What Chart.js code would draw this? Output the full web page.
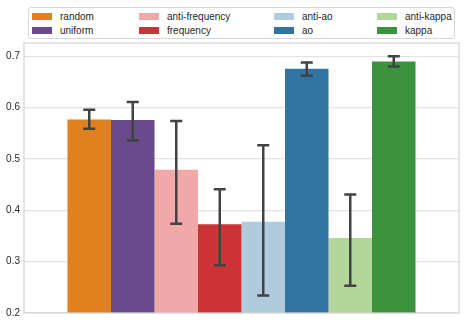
<!DOCTYPE html>
<html>
<head>
<meta charset="utf-8">
<script src="https://cdn.jsdelivr.net/npm/chart.js@4/dist/chart.umd.min.js"></script>
<style>
  html, body { margin: 0; padding: 0; background: #fff; }
  #wrap { position: relative; width: 466px; height: 333px; }
  #legend { position: absolute; left: 28px; top: 7px; width: 425px; height: 30px;
    border: 1px solid #d6d6d6; border-radius: 3px; background: #fff;
    font-family: "Liberation Sans", Arial, sans-serif; font-size: 10px; color: #262626; }
  .item { position: absolute; height: 12px; line-height: 12px; white-space: nowrap; }
  .sw { display: inline-block; width: 20px; height: 7px; vertical-align: middle; margin-right: 8px; position: relative; top: -1px; }
</style>
</head>
<body>
<div id="wrap">
  <canvas id="c" width="466" height="333"></canvas>
  <div id="legend"></div>
</div>
<script>
// ---- data ----
const categories = [""];
const methods = ["random", "uniform", "anti-frequency", "frequency", "anti-ao", "ao", "anti-kappa", "kappa"];
const means   = [0.577, 0.576, 0.479, 0.373, 0.378, 0.676, 0.346, 0.690];
const errLow  = [0.559, 0.536, 0.374, 0.293, 0.234, 0.662, 0.253, 0.680];
const errHigh = [0.596, 0.611, 0.574, 0.441, 0.527, 0.688, 0.431, 0.700];
const colors  = ["#e0801f", "#6a4a8c", "#f0a8a8", "#cb3335", "#afcbdd", "#3274a1", "#b3d69b", "#3d923d"];
const yTicks  = [0.2, 0.3, 0.4, 0.5, 0.6, 0.7];

// ---- legend (matplotlib-style, column-major, 4 columns) ----
const legendCols = [3, 110, 245, 348];
const legendRows = [3, 17];
const legendEl = document.getElementById('legend');
methods.forEach((m, i) => {
  const col = Math.floor(i / 2), row = i % 2;
  const d = document.createElement('div');
  d.className = 'item';
  d.style.left = legendCols[col] + 'px';
  d.style.top = legendRows[row] + 'px';
  d.innerHTML = '<span class="sw" style="background:' + colors[i] + '"></span>' + m;
  legendEl.appendChild(d);
});

// ---- plugins ----
const errorBars = {
  id: 'errorBars',
  afterDatasetsDraw(chart) {
    const ctx = chart.ctx, y = chart.scales.y;
    ctx.save();
    ctx.strokeStyle = '#424242';
    ctx.lineWidth = 2.5;
    ctx.lineCap = 'butt';
    chart.data.datasets.forEach((ds, i) => {
      const meta = chart.getDatasetMeta(i);
      meta.data.forEach((bar, j) => {
        const x = bar.x;
        const yl = y.getPixelForValue(ds.errLow[j]);
        const yh = y.getPixelForValue(ds.errHigh[j]);
        ctx.beginPath();
        ctx.moveTo(x, yl); ctx.lineTo(x, yh);
        ctx.moveTo(x - 6, yl); ctx.lineTo(x + 6, yl);
        ctx.moveTo(x - 6, yh); ctx.lineTo(x + 6, yh);
        ctx.stroke();
      });
    });
    ctx.restore();
  }
};
const frame = {
  id: 'frame',
  afterDraw(chart) {
    const a = chart.chartArea, ctx = chart.ctx;
    ctx.save();
    ctx.strokeStyle = '#d6d6d6';
    ctx.lineWidth = 1.25;
    ctx.strokeRect(a.left, a.top, a.right - a.left, a.bottom - a.top);
    ctx.restore();
  }
};

new Chart(document.getElementById('c'), {
  type: 'bar',
  data: {
    labels: categories,
    datasets: methods.map((m, i) => ({
      label: m,
      data: [means[i]],
      errLow: [errLow[i]],
      errHigh: [errHigh[i]],
      backgroundColor: colors[i],
      borderWidth: 0,
      categoryPercentage: 0.8,
      barPercentage: 1.0
    }))
  },
  options: {
    responsive: false,
    animation: false,
    layout: { padding: { left: 0, right: 7, top: 43, bottom: 20 } },
    plugins: { legend: { display: false }, tooltip: { enabled: false } },
    scales: {
      x: { display: false, offset: true },
      y: {
        min: 0.2, max: 0.726,
        afterFit(s) { s.width = 24; },
        afterBuildTicks(s) { s.ticks = yTicks.map(v => ({ value: v })); },
        border: { display: false },
        grid: { color: '#e2e2e2', lineWidth: 1.25, drawTicks: false },
        ticks: {
          padding: 4,
          color: '#262626',
          font: { family: '"Liberation Sans", Arial, sans-serif', size: 10 },
          callback: v => Number(v).toFixed(1)
        }
      }
    }
  },
  plugins: [errorBars, frame]
});
</script>
</body>
</html>
